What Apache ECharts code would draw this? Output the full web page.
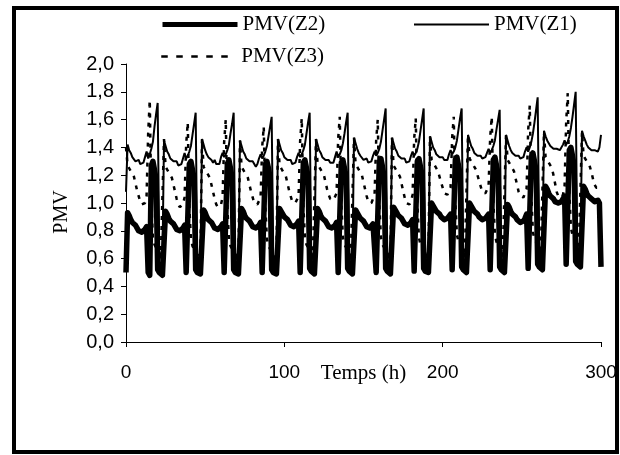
<!DOCTYPE html>
<html>
<head>
<meta charset="utf-8">
<script src="https://cdn.jsdelivr.net/npm/echarts@6/dist/echarts.min.js"></script>
<style>
html,body{margin:0;padding:0;background:#fff;}
#chart{width:620px;height:455px;}
</style>
</head>
<body>
<div id="chart"></div>
<script>
// hourly values, one row per day (24 h), last row hours 288-300
var z1 = [
1.08,1.42,1.38,1.36,1.33,1.34,1.30,1.29,1.31,1.28,1.27,1.29,1.33,1.37,1.32,1.35,1.39,1.44,1.55,1.64,1.72,0.66,0.61,0.58,
1.45,1.41,1.37,1.35,1.32,1.33,1.30,1.29,1.30,1.27,1.26,1.28,1.32,1.36,1.32,1.34,1.37,1.41,1.49,1.57,1.65,0.63,0.59,0.56,
1.46,1.42,1.38,1.35,1.33,1.34,1.31,1.29,1.31,1.28,1.27,1.28,1.33,1.36,1.33,1.35,1.38,1.42,1.50,1.57,1.65,0.64,0.60,0.57,
1.45,1.41,1.37,1.35,1.32,1.33,1.30,1.29,1.30,1.28,1.26,1.28,1.32,1.35,1.32,1.34,1.37,1.41,1.48,1.55,1.62,0.63,0.59,0.56,
1.46,1.42,1.38,1.36,1.33,1.34,1.31,1.30,1.31,1.28,1.27,1.29,1.33,1.36,1.33,1.35,1.38,1.42,1.50,1.58,1.65,0.64,0.60,0.57,
1.46,1.42,1.38,1.36,1.33,1.34,1.31,1.30,1.31,1.29,1.28,1.29,1.33,1.37,1.33,1.35,1.38,1.43,1.50,1.58,1.65,0.64,0.60,0.57,
1.47,1.43,1.39,1.36,1.34,1.35,1.31,1.30,1.32,1.29,1.28,1.30,1.34,1.37,1.34,1.36,1.39,1.44,1.52,1.60,1.68,0.65,0.61,0.58,
1.47,1.43,1.39,1.37,1.34,1.35,1.32,1.31,1.32,1.29,1.28,1.30,1.34,1.37,1.34,1.36,1.39,1.44,1.52,1.60,1.68,0.65,0.61,0.58,
1.48,1.44,1.40,1.38,1.35,1.36,1.33,1.32,1.33,1.31,1.30,1.31,1.35,1.38,1.35,1.37,1.40,1.45,1.53,1.61,1.68,0.66,0.62,0.59,
1.49,1.45,1.41,1.39,1.36,1.37,1.34,1.33,1.34,1.32,1.32,1.33,1.36,1.39,1.36,1.38,1.41,1.45,1.53,1.60,1.67,0.66,0.62,0.59,
1.49,1.45,1.41,1.38,1.36,1.37,1.34,1.33,1.34,1.32,1.31,1.33,1.37,1.40,1.37,1.40,1.44,1.50,1.58,1.67,1.76,0.68,0.63,0.60,
1.52,1.48,1.45,1.43,1.41,1.42,1.39,1.38,1.39,1.38,1.38,1.39,1.42,1.45,1.42,1.44,1.48,1.54,1.62,1.71,1.80,0.70,0.65,0.62,
1.52,1.48,1.45,1.42,1.40,1.41,1.38,1.37,1.38,1.37,1.37,1.40,1.49
];
var z2 = [
0.50,0.93,0.91,0.88,0.86,0.87,0.84,0.82,0.80,0.79,0.79,0.80,0.81,0.83,0.50,0.48,1.27,1.30,1.24,1.17,0.52,0.50,0.49,0.48,
0.49,0.94,0.92,0.89,0.87,0.88,0.85,0.83,0.81,0.80,0.80,0.81,0.82,0.84,0.50,0.49,1.28,1.30,1.24,1.18,0.52,0.50,0.49,0.49,
0.49,0.95,0.93,0.90,0.88,0.89,0.86,0.84,0.82,0.81,0.81,0.82,0.83,0.85,0.50,0.49,1.28,1.31,1.25,1.18,0.52,0.50,0.49,0.49,
0.49,0.96,0.94,0.91,0.89,0.90,0.87,0.85,0.83,0.82,0.82,0.83,0.84,0.86,0.50,0.49,1.28,1.30,1.25,1.18,0.52,0.50,0.49,0.49,
0.49,0.96,0.95,0.92,0.90,0.91,0.88,0.86,0.84,0.83,0.83,0.84,0.85,0.87,0.50,0.49,1.29,1.31,1.25,1.19,0.53,0.51,0.50,0.49,
0.49,0.96,0.94,0.91,0.89,0.90,0.87,0.85,0.83,0.82,0.82,0.83,0.84,0.86,0.50,0.49,1.29,1.31,1.25,1.19,0.53,0.51,0.50,0.49,
0.49,0.95,0.94,0.91,0.89,0.90,0.87,0.85,0.83,0.82,0.82,0.83,0.85,0.86,0.50,0.49,1.30,1.32,1.26,1.19,0.53,0.51,0.50,0.49,
0.50,0.97,0.96,0.93,0.91,0.92,0.89,0.87,0.85,0.84,0.84,0.85,0.86,0.88,0.51,0.50,1.30,1.32,1.26,1.20,0.53,0.51,0.50,0.50,
0.50,1.00,0.99,0.96,0.94,0.95,0.92,0.90,0.89,0.88,0.88,0.89,0.90,0.92,0.52,0.51,1.31,1.33,1.27,1.21,0.54,0.52,0.51,0.50,
0.50,1.00,0.99,0.96,0.94,0.95,0.92,0.90,0.89,0.88,0.88,0.89,0.90,0.92,0.52,0.51,1.31,1.33,1.27,1.21,0.54,0.52,0.51,0.50,
0.51,0.99,0.97,0.94,0.92,0.93,0.90,0.88,0.87,0.86,0.86,0.87,0.89,0.92,0.53,0.52,1.33,1.36,1.30,1.23,0.56,0.54,0.53,0.52,
0.53,1.12,1.10,1.07,1.05,1.06,1.03,1.01,1.00,1.00,1.00,1.01,1.03,1.05,0.56,0.55,1.38,1.40,1.34,1.27,0.58,0.56,0.55,0.54,
0.55,1.12,1.10,1.07,1.05,1.06,1.03,1.02,1.01,1.02,1.02,1.00,0.54
];
var z3 = [
1.40,1.27,1.25,1.23,1.21,1.19,1.14,1.09,1.05,1.01,0.99,0.99,1.00,1.05,1.50,1.74,1.00,0.75,0.70,0.68,0.66,0.64,0.62,0.61,
1.46,1.26,1.24,1.22,1.20,1.18,1.13,1.08,1.03,0.99,0.97,0.97,0.99,1.04,1.42,1.58,0.98,0.74,0.69,0.67,0.65,0.63,0.62,0.61,
1.46,1.26,1.24,1.22,1.20,1.18,1.13,1.08,1.03,0.99,0.97,0.97,0.99,1.04,1.44,1.60,0.98,0.74,0.69,0.67,0.65,0.63,0.62,0.61,
1.45,1.26,1.24,1.22,1.20,1.18,1.13,1.08,1.04,1.00,0.99,0.99,1.00,1.04,1.40,1.55,0.98,0.74,0.69,0.67,0.65,0.63,0.62,0.61,
1.46,1.27,1.25,1.23,1.21,1.19,1.14,1.09,1.05,1.01,1.00,1.00,1.01,1.05,1.45,1.61,0.99,0.75,0.70,0.68,0.66,0.64,0.62,0.61,
1.46,1.28,1.26,1.24,1.22,1.20,1.15,1.10,1.06,1.03,1.02,1.02,1.03,1.07,1.46,1.62,1.00,0.75,0.70,0.68,0.66,0.64,0.62,0.61,
1.47,1.28,1.26,1.24,1.22,1.20,1.15,1.10,1.05,1.01,1.00,1.00,1.01,1.06,1.45,1.60,1.00,0.75,0.70,0.68,0.66,0.64,0.63,0.62,
1.47,1.27,1.25,1.23,1.21,1.19,1.14,1.09,1.04,1.00,0.99,0.99,1.01,1.06,1.46,1.61,1.00,0.75,0.70,0.68,0.66,0.64,0.63,0.62,
1.48,1.31,1.29,1.27,1.25,1.23,1.19,1.15,1.11,1.07,1.06,1.06,1.07,1.11,1.47,1.62,1.02,0.77,0.72,0.70,0.68,0.66,0.64,0.63,
1.49,1.32,1.30,1.28,1.26,1.24,1.20,1.16,1.12,1.08,1.07,1.07,1.08,1.12,1.47,1.62,1.02,0.77,0.72,0.70,0.68,0.66,0.64,0.63,
1.49,1.31,1.29,1.27,1.25,1.23,1.18,1.13,1.08,1.05,1.04,1.04,1.05,1.10,1.52,1.70,1.05,0.79,0.74,0.72,0.70,0.68,0.66,0.65,
1.51,1.33,1.31,1.29,1.27,1.25,1.20,1.14,1.08,1.05,1.04,1.04,1.06,1.12,1.58,1.79,1.08,0.82,0.77,0.75,0.72,0.70,0.68,0.67,
1.51,1.34,1.32,1.30,1.28,1.26,1.22,1.17,1.13,1.11,1.10,1.11,1.12
];
var xTicks = [0, 100, 200, 300];
var yTicks = [0.0, 0.2, 0.4, 0.6, 0.8, 1.0, 1.2, 1.4, 1.6, 1.8, 2.0];
var seriesNames = ['PMV(Z2)', 'PMV(Z1)', 'PMV(Z3)'];
var xTitle = 'Temps (h)';
var yTitle = 'PMV';

function pairs(arr){ return arr.map(function(v,i){ return [i, v]; }); }

var chart = echarts.init(document.getElementById('chart'), null, {renderer:'canvas'});
var serif = 'Liberation Serif';
var sans = 'Liberation Sans';
var legendText = {fontFamily: serif, fontSize: 21, color: '#000'};
var hideSym = {opacity: 0};

chart.setOption({
  animation: false,
  backgroundColor: '#fff',
  grid: {left: 126, right: 19, top: 64, bottom: 113, containLabel: false},
  legend: [
    {data: [seriesNames[0]], left: 160, top: 14, padding: 0, itemWidth: 75, itemHeight: 22, itemGap: 0,
     textStyle: legendText, lineStyle: {width: 5}, itemStyle: hideSym},
    {data: [seriesNames[1]], left: 413, top: 14, padding: 0, itemWidth: 75, itemHeight: 22, itemGap: 0,
     textStyle: legendText, lineStyle: {width: 2}, itemStyle: hideSym},
    {data: [seriesNames[2]], left: 160, top: 46, padding: 0, itemWidth: 75, itemHeight: 22, itemGap: 0,
     textStyle: legendText, lineStyle: {width: 2.5, type: [6.5, 8.5]}, itemStyle: hideSym}
  ],
  xAxis: {
    type: 'value', min: xTicks[0], max: xTicks[xTicks.length-1], interval: 100,
    name: xTitle, nameLocation: 'middle', nameGap: 21, nameMoveOverlap: false,
    nameTextStyle: {fontFamily: serif, fontSize: 21, color: '#000'},
    axisLine: {onZero: false, lineStyle: {color: '#000', width: 1}},
    axisTick: {show: true, length: 5, lineStyle: {color: '#000'}},
    axisLabel: {fontFamily: sans, fontSize: 19, color: '#000', margin: 21},
    splitLine: {show: false}
  },
  yAxis: {
    type: 'value', min: yTicks[0], max: yTicks[yTicks.length-1], interval: 0.2,
    name: yTitle, nameLocation: 'middle', nameGap: 54, nameMoveOverlap: false,
    nameTextStyle: {fontFamily: serif, fontSize: 20, color: '#000', padding: [0, 18, 0, 0]},
    axisLine: {show: true, lineStyle: {color: '#000', width: 1}},
    axisTick: {show: true, length: 5, lineStyle: {color: '#000'}},
    axisLabel: {fontFamily: sans, fontSize: 20, color: '#000', margin: 12,
      formatter: function(v){ return v.toFixed(1).replace('.', ','); }},
    splitLine: {show: false}
  },
  series: [
    {name: seriesNames[0], type: 'line', data: pairs(z2), symbol: 'none', z: 3,
     lineStyle: {color: '#000', width: 5.5, join: 'round'}, itemStyle: {color: '#000'}},
    {name: seriesNames[1], type: 'line', data: pairs(z1), symbol: 'none', z: 4,
     lineStyle: {color: '#000', width: 2}, itemStyle: {color: '#000'}},
    {name: seriesNames[2], type: 'line', data: pairs(z3), symbol: 'none', z: 5,
     lineStyle: {color: '#000', width: 2.5, type: [4, 6]}, itemStyle: {color: '#000'}}
  ],
  graphic: [
    {type: 'rect', shape: {x: 14, y: 8, width: 603, height: 444},
     style: {fill: 'none', stroke: '#000', lineWidth: 4}, silent: true, z: 100}
  ]
});
</script>
</body>
</html>
